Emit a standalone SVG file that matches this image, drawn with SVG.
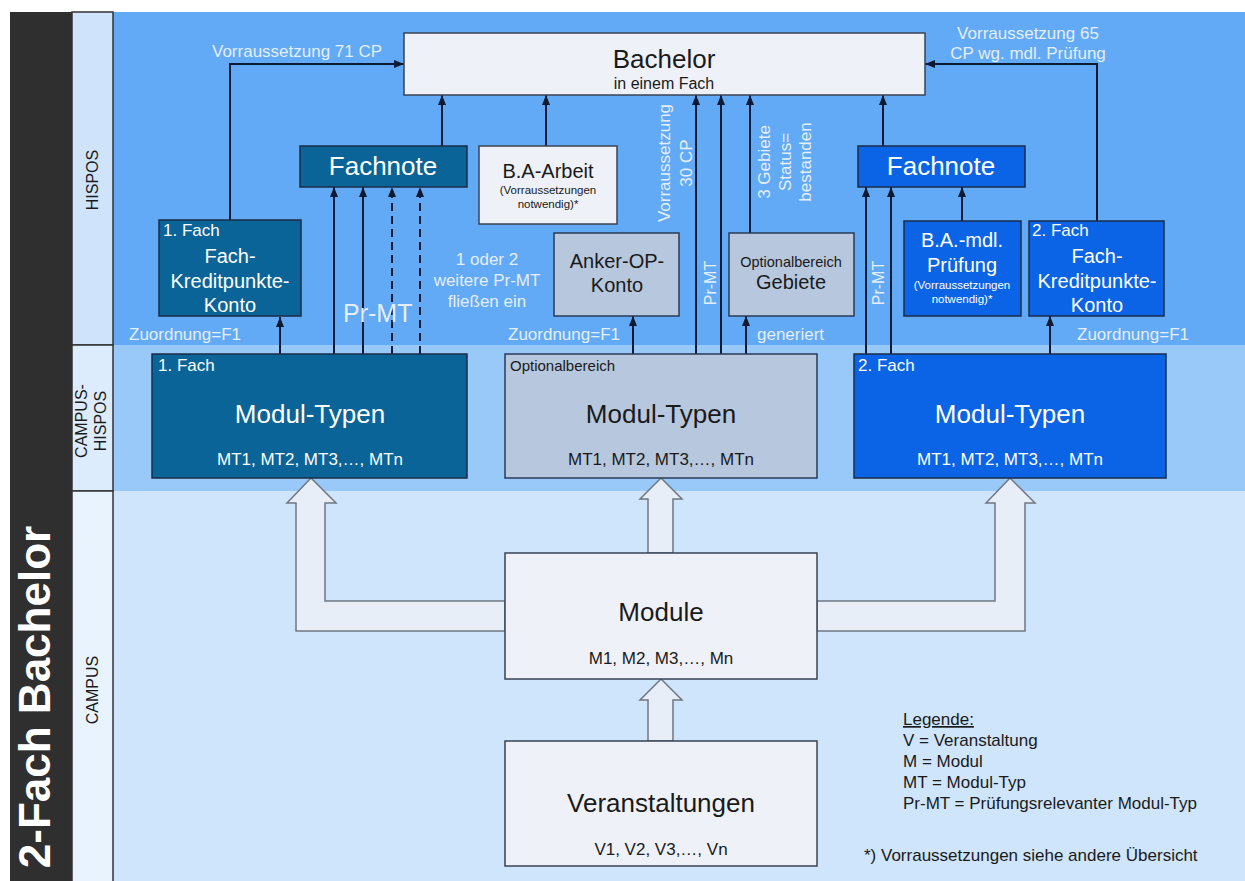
<svg xmlns="http://www.w3.org/2000/svg" width="1245" height="881" viewBox="0 0 1245 881">
<style>
text{font-family:"Liberation Sans",Arial,sans-serif}
.dk{fill:#0b6497;stroke:#1b2d48;stroke-width:1.5}
.br{fill:#0b64e6;stroke:#1b2d48;stroke-width:1.5}
.gr{fill:#b6c7de;stroke:#2a3a55;stroke-width:1.5}
.lt{fill:#eef1f8;stroke:#3a4354;stroke-width:1.5}
.w{fill:#ffffff}
.lbl{fill:#e4eefc}
.d{fill:#1a1a1a}
.c{text-anchor:middle}
.ln{stroke:#0c1a33;stroke-width:2;fill:none;marker-end:url(#ah)}
.dash{stroke-dasharray:8,5}
.hol{fill:#e8eef8;stroke:#6f7782;stroke-width:1.5}
</style>
<defs>
<marker id="ah" viewBox="0 0 10 8" refX="10" refY="4" markerWidth="10" markerHeight="8" markerUnits="userSpaceOnUse" orient="auto">
<path d="M0,0 L10,4 L0,8 z" fill="#0c1a33"/>
</marker>
</defs>

<g id="background">
<rect x="0" y="0" width="1245" height="881" fill="#ffffff"/>
<rect x="113" y="12" width="1132" height="333" fill="#62aaf5"/>
<rect x="113" y="345" width="1132" height="146" fill="#99c9f9"/>
<rect x="113" y="491" width="1132" height="390" fill="#cfe5fb"/>
<rect x="10" y="12" width="62" height="869" fill="#2f2f2f"/>
<rect x="72" y="12" width="41" height="333" fill="#cfe4fb" stroke="#333" stroke-width="1.5"/>
<rect x="72" y="345" width="41" height="146" fill="#dcecfc" stroke="#333" stroke-width="1.5"/>
<rect x="72" y="491" width="41" height="392" fill="#e9f3fd" stroke="#333" stroke-width="1.5"/>
<text transform="translate(50,697) rotate(-90)" class="c" font-size="44" font-weight="bold" fill="#ffffff">2-Fach Bachelor</text>
<text transform="translate(98,180) rotate(-90)" class="c d" font-size="16">HISPOS</text>
<text transform="translate(87,421) rotate(-90)" class="c d" font-size="16">CAMPUS-</text>
<text transform="translate(106,421) rotate(-90)" class="c d" font-size="16">HISPOS</text>
<text transform="translate(98,690) rotate(-90)" class="c d" font-size="16">CAMPUS</text>
</g>

<g id="connectors">
<polyline class="ln" points="230,220 230,64 404,64"/>
<polyline class="ln" points="1097,221 1097,64 925,64"/>
<line class="ln" x1="442" y1="146" x2="442" y2="95"/>
<line class="ln" x1="546" y1="146" x2="546" y2="95"/>
<line class="ln" x1="696" y1="354" x2="696" y2="95"/>
<line class="ln" x1="721" y1="354" x2="721" y2="95"/>
<line class="ln" x1="750" y1="233" x2="750" y2="95"/>
<line class="ln" x1="746" y1="354" x2="746" y2="316"/>
<line class="ln" x1="633" y1="354" x2="633" y2="316"/>
<line class="ln" x1="883" y1="146" x2="883" y2="95"/>
<line class="ln" x1="866" y1="354" x2="866" y2="187"/>
<line class="ln" x1="891" y1="354" x2="891" y2="187"/>
<line class="ln" x1="962" y1="221" x2="962" y2="187"/>
<line class="ln" x1="1050" y1="354" x2="1050" y2="316"/>
<line class="ln" x1="280" y1="354" x2="280" y2="317"/>
<line class="ln" x1="334" y1="354" x2="334" y2="187"/>
<line class="ln" x1="363" y1="354" x2="363" y2="187"/>
<line class="ln dash" x1="392" y1="354" x2="392" y2="187"/>
<line class="ln dash" x1="420" y1="354" x2="420" y2="187"/>
<polygon class="hol" points="311,478 336,503 325,503 325,601 505,601 505,631 296,631 296,503 287,503"/>
<polygon class="hol" points="1010,478 1035,503 1025,503 1025,631 817,631 817,601 995,601 995,503 986,503"/>
<polygon class="hol" points="661,478 682,499 673,499 673,553 648,553 648,499 640,499"/>
<polygon class="hol" points="661,679 682,700 673,700 673,741 648,741 648,700 640,700"/>
</g>

<g id="edge-labels">
<text class="lbl" x="212" y="57" font-size="17">Vorraussetzung 71 CP</text>
<text class="lbl c" x="1028" y="39" font-size="17">Vorraussetzung 65</text>
<text class="lbl c" x="1028" y="59" font-size="17">CP wg. mdl. Prüfung</text>
<text class="lbl c" transform="translate(670,163) rotate(-90)" font-size="17">Vorraussetzung</text>
<text class="lbl c" transform="translate(692,163) rotate(-90)" font-size="17">30 CP</text>
<text class="lbl c" transform="translate(770,162) rotate(-90)" font-size="17">3 Gebiete</text>
<text class="lbl c" transform="translate(791,162) rotate(-90)" font-size="17">Status=</text>
<text class="lbl c" transform="translate(811,162) rotate(-90)" font-size="17">bestanden</text>
<text class="lbl c" transform="translate(716,283) rotate(-90)" font-size="16">Pr-MT</text>
<text class="lbl c" transform="translate(884,283) rotate(-90)" font-size="16">Pr-MT</text>
<text class="lbl c" x="487" y="265" font-size="17">1 oder 2</text>
<text class="lbl c" x="487" y="286" font-size="17">weitere Pr-MT</text>
<text class="lbl c" x="487" y="307" font-size="17">fließen ein</text>
<text class="lbl" x="343" y="322" font-size="25">Pr-MT</text>
<text class="lbl" x="129" y="340" font-size="17">Zuordnung=F1</text>
<text class="lbl" x="508" y="340" font-size="17">Zuordnung=F1</text>
<text class="lbl" x="757" y="340" font-size="17">generiert</text>
<text class="lbl" x="1077" y="340" font-size="17">Zuordnung=F1</text>
</g>

<g id="bachelor">
<rect class="lt" x="404" y="33" width="521" height="62"/>
<text class="c d" x="664" y="68" font-size="26">Bachelor</text>
<text class="c d" x="664" y="89" font-size="16">in einem Fach</text>
</g>

<g id="fachnote1">
<rect class="dk" x="300" y="146" width="167" height="41"/>
<text class="c w" x="383" y="175" font-size="26">Fachnote</text>
</g>

<g id="ba-arbeit">
<rect class="lt" x="479" y="146" width="138" height="78"/>
<text class="c d" x="548" y="178" font-size="20">B.A-Arbeit</text>
<text class="c d" x="548" y="194" font-size="11.5">(Vorraussetzungen</text>
<text class="c d" x="548" y="208" font-size="11.5">notwendig)*</text>
</g>

<g id="konto1">
<rect class="dk" x="159" y="220" width="142" height="96"/>
<text class="w" x="163" y="236" font-size="17">1. Fach</text>
<text class="c w" x="230" y="263" font-size="20">Fach-</text>
<text class="c w" x="230" y="288" font-size="20">Kreditpunkte-</text>
<text class="c w" x="230" y="312" font-size="20">Konto</text>
</g>

<g id="anker">
<rect class="gr" x="554" y="233" width="125" height="83"/>
<text class="c d" x="617" y="268" font-size="20">Anker-OP-</text>
<text class="c d" x="617" y="292" font-size="20">Konto</text>
</g>

<g id="gebiete">
<rect class="gr" x="729" y="233" width="125" height="83"/>
<text class="c d" x="791" y="267" font-size="14.5">Optionalbereich</text>
<text class="c d" x="791" y="289" font-size="20">Gebiete</text>
</g>

<g id="fachnote2">
<rect class="br" x="858" y="146" width="167" height="41"/>
<text class="c w" x="941" y="175" font-size="26">Fachnote</text>
</g>

<g id="ba-mdl">
<rect class="br" x="904" y="221" width="117" height="95"/>
<text class="c w" x="962" y="247" font-size="20">B.A.-mdl.</text>
<text class="c w" x="962" y="272" font-size="20">Prüfung</text>
<text class="c w" x="962" y="289" font-size="11.5">(Vorraussetzungen</text>
<text class="c w" x="962" y="303" font-size="11.5">notwendig)*</text>
</g>

<g id="konto2">
<rect class="br" x="1029" y="221" width="135" height="95"/>
<text class="w" x="1032" y="236" font-size="17">2. Fach</text>
<text class="c w" x="1097" y="263" font-size="20">Fach-</text>
<text class="c w" x="1097" y="288" font-size="20">Kreditpunkte-</text>
<text class="c w" x="1097" y="312" font-size="20">Konto</text>
</g>

<g id="modultypen1">
<rect class="dk" x="152" y="354" width="315" height="124"/>
<text class="w" x="158" y="371" font-size="17">1. Fach</text>
<text class="c w" x="310" y="423" font-size="26">Modul-Typen</text>
<text class="c w" x="310" y="465" font-size="17">MT1, MT2, MT3,…, MTn</text>
</g>

<g id="modultypen-opt">
<rect class="gr" x="505" y="354" width="312" height="124"/>
<text class="d" x="510" y="371" font-size="15">Optionalbereich</text>
<text class="c d" x="661" y="423" font-size="26">Modul-Typen</text>
<text class="c d" x="661" y="465" font-size="17">MT1, MT2, MT3,…, MTn</text>
</g>

<g id="modultypen2">
<rect class="br" x="854" y="354" width="312" height="124"/>
<text class="w" x="858" y="371" font-size="17">2. Fach</text>
<text class="c w" x="1010" y="423" font-size="26">Modul-Typen</text>
<text class="c w" x="1010" y="465" font-size="17">MT1, MT2, MT3,…, MTn</text>
</g>

<g id="module">
<rect class="lt" x="505" y="553" width="312" height="126"/>
<text class="c d" x="661" y="621" font-size="26">Module</text>
<text class="c d" x="661" y="664" font-size="17">M1, M2, M3,…, Mn</text>
</g>

<g id="veranstaltungen">
<rect class="lt" x="505" y="741" width="312" height="125"/>
<text class="c d" x="661" y="812" font-size="26">Veranstaltungen</text>
<text class="c d" x="661" y="855" font-size="17">V1, V2, V3,…, Vn</text>
</g>

<g id="legend">
<text class="d" x="903" y="725" font-size="17" text-decoration="underline">Legende:</text>
<text class="d" x="903" y="746" font-size="17">V = Veranstaltung</text>
<text class="d" x="903" y="767" font-size="17">M = Modul</text>
<text class="d" x="903" y="788" font-size="17">MT = Modul-Typ</text>
<text class="d" x="903" y="809" font-size="17">Pr-MT = Prüfungsrelevanter Modul-Typ</text>
<text class="d" x="864" y="861" font-size="17">*) Vorraussetzungen siehe andere Übersicht</text>
</g>
</svg>
